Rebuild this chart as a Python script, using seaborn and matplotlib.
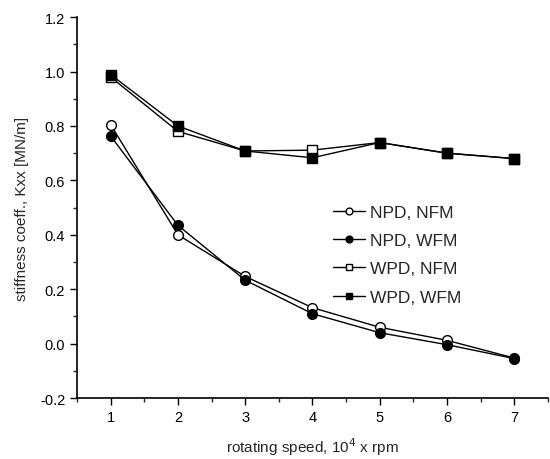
import matplotlib
matplotlib.use("Agg")
import matplotlib.pyplot as plt
import seaborn as sns
import pandas as pd
from matplotlib.ticker import MultipleLocator

speed = [1, 2, 3, 4, 5, 6, 7]
npd_nfm = [0.805, 0.400, 0.247, 0.132, 0.060, 0.012, -0.053]
npd_wfm = [0.763, 0.435, 0.233, 0.110, 0.040, -0.004, -0.055]
wpd_nfm = [0.980, 0.780, 0.708, 0.711, 0.739, 0.700, 0.680]
wpd_wfm = [0.989, 0.800, 0.708, 0.683, 0.739, 0.700, 0.680]
labels = ["NPD, NFM", "NPD, WFM", "WPD, NFM", "WPD, WFM"]

sns.set_style("ticks")
plt.rcParams['font.family'] = ['Liberation Sans', 'DejaVu Sans']

fig = plt.figure(figsize=(5.5, 4.6), dpi=100)
ax = fig.add_axes([0.14, 0.1326, 0.856, 0.828])

series = [npd_nfm, npd_wfm, wpd_nfm, wpd_wfm]
markers = ["o", "o", "s", "s"]
faces = ["white", "black", "white", "black"]
for vals, lab, m, fc in zip(series, labels, markers, faces):
    df = pd.DataFrame({"x": speed, "y": vals})
    sns.lineplot(data=df, x="x", y="y", ax=ax, color="black", linewidth=1.0,
                 marker=m, markersize=7, markerfacecolor=fc,
                 markeredgecolor="black", markeredgewidth=1.0, label=lab)

ax.set_xlim(0.5, 7.5)
ax.set_ylim(-0.2, 1.2)
ax.xaxis.set_major_locator(MultipleLocator(1))
ax.xaxis.set_minor_locator(MultipleLocator(0.5))
ax.yaxis.set_major_locator(MultipleLocator(0.2))
ax.yaxis.set_minor_locator(MultipleLocator(0.1))
ax.yaxis.set_major_formatter(matplotlib.ticker.FormatStrFormatter('%.1f'))
ax.tick_params(which='major', direction='out', length=5, width=1, labelsize=10.5, colors='black')
ax.tick_params(which='minor', direction='out', length=3, width=1)
for s in ['top', 'right']:
    ax.spines[s].set_visible(False)
for s in ['left', 'bottom']:
    ax.spines[s].set_linewidth(1.2)
    ax.spines[s].set_color('black')

ax.set_xlabel("rotating speed, 10$^4$ x rpm", fontsize=11, labelpad=8)
ax.set_ylabel("stiffness coeff., Kxx [MN/m]", fontsize=11, labelpad=8)

leg = ax.legend(loc='upper left', bbox_to_anchor=(0.53, 0.525), frameon=False,
                fontsize=12.5, handlelength=1.8, handletextpad=0.3, labelspacing=0.75,
                borderaxespad=0, markerscale=0.7)

fig.savefig("out.png", dpi=100)
